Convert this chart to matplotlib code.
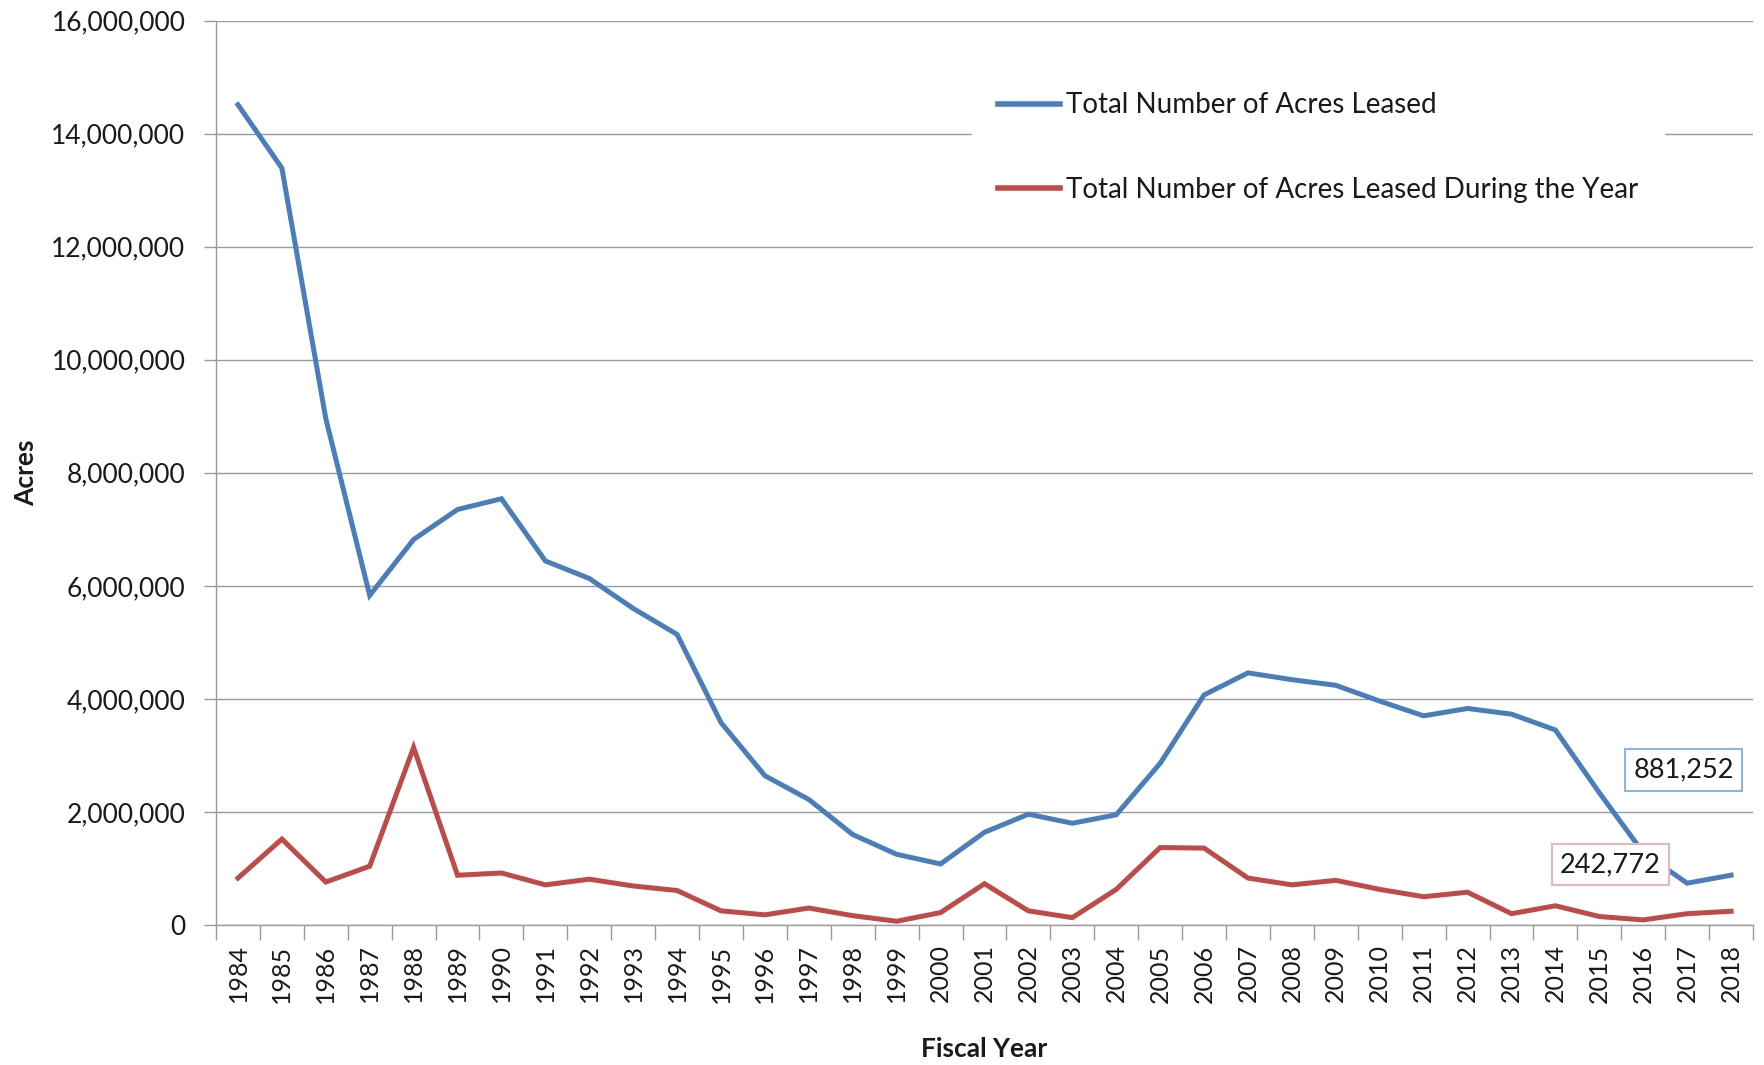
import matplotlib
matplotlib.use("Agg")
import matplotlib.pyplot as plt
from matplotlib.ticker import FuncFormatter, FixedLocator

# ---- data ----
years = list(range(1984, 2019))
total_leased = [14510000, 13390000, 8960000, 5830000, 6820000, 7350000, 7540000,
                6440000, 6130000, 5600000, 5140000, 3580000, 2640000, 2220000,
                1600000, 1250000, 1080000, 1640000, 1960000, 1800000, 1950000,
                2860000, 4070000, 4460000, 4340000, 4240000, 3960000, 3700000,
                3830000, 3730000, 3450000, 2340000, 1280000, 740000, 881252]
leased_during_year = [830000, 1520000, 760000, 1040000, 3140000, 880000, 920000,
                      710000, 810000, 690000, 610000, 250000, 180000, 300000,
                      165000, 66000, 220000, 730000, 250000, 130000, 630000,
                      1370000, 1360000, 830000, 710000, 790000, 630000, 500000,
                      580000, 200000, 340000, 150000, 90000, 200000, 242772]
series_names = ["Total Number of Acres Leased",
                "Total Number of Acres Leased During the Year"]
y_ticks = [0, 2000000, 4000000, 6000000, 8000000, 10000000, 12000000, 14000000, 16000000]

plt.rcParams['font.family'] = ['Lato', 'DejaVu Sans']

BLUE = "#4A7EBB"
RED = "#BE4B48"
GRID = "#9a9a9a"
TXT = "#1a1a1a"

fig = plt.figure(figsize=(17.64, 10.65), dpi=100)
W, H = 1764, 1065
ax = fig.add_axes([216 / W, 1 - 925 / H, (1753 - 216) / W, (925 - 20.5) / H])

x = list(range(len(years)))
ax.plot(x, total_leased, color=BLUE, lw=3.6, solid_joinstyle='miter', label=series_names[0], zorder=3)
ax.plot(x, leased_during_year, color=RED, lw=3.6, solid_joinstyle='miter', label=series_names[1], zorder=3)

ax.set_xlim(-0.5, len(years) - 0.5)
ax.set_ylim(0, 16000000)

# y axis
ax.set_yticks(y_ticks)
ax.yaxis.set_major_formatter(FuncFormatter(lambda v, p: f"{int(v):,}"))
ax.tick_params(axis='y', length=9, width=1.0, color=GRID, pad=13, labelsize=19, labelcolor=TXT)
ax.yaxis.grid(True, color=GRID, lw=1.0)
ax.set_axisbelow(True)

# x axis: labels at centers, tick marks at category boundaries
ax.set_xticks(x)
ax.set_xticklabels([str(y) for y in years], rotation=90, fontsize=18, color=TXT)
ax.tick_params(axis='x', which='major', length=0, pad=14)
ax.xaxis.set_minor_locator(FixedLocator([i - 0.5 for i in range(len(years) + 1)]))
ax.tick_params(axis='x', which='minor', length=11, width=1.0, color=GRID)

for s in ['top', 'right']:
    ax.spines[s].set_visible(False)
for s in ['left', 'bottom']:
    ax.spines[s].set_color(GRID)
    ax.spines[s].set_linewidth(1.0)

ax.set_xlabel("Fiscal Year", fontsize=19, fontweight='bold', color=TXT)
ax.xaxis.set_label_coords(0.5, -0.1235)
ax.set_ylabel("Acres", fontsize=19, fontweight='bold', color=TXT)
ax.yaxis.set_label_coords(-0.116, 0.5)

# data labels
ax.annotate(f"{total_leased[-1]:,}", xy=(32.92, 2740000), ha='center', va='center',
            fontsize=19.5, color=TXT,
            bbox=dict(boxstyle='square,pad=0.3', fc='white', ec='#8EB4E3', lw=1.5), zorder=5)
ax.annotate(f"{leased_during_year[-1]:,}", xy=(31.25, 1070000), ha='center', va='center',
            fontsize=19.5, color=TXT,
            bbox=dict(boxstyle='square,pad=0.3', fc='white', ec='#E6B9B8', lw=1.5), zorder=5)

leg = ax.legend(loc='upper left', bbox_to_anchor=(972 / W, 1 - 66 / H), bbox_transform=fig.transFigure,
                borderaxespad=0, frameon=True, fancybox=False, framealpha=1.0,
                edgecolor='white', facecolor='white', fontsize=20,
                handlelength=2.2, handletextpad=0.22, labelspacing=2.1, borderpad=0.95)
for t in leg.get_texts():
    t.set_color(TXT)
for l in leg.get_lines():
    l.set_linewidth(4)

fig.savefig("out.png", dpi=100)
